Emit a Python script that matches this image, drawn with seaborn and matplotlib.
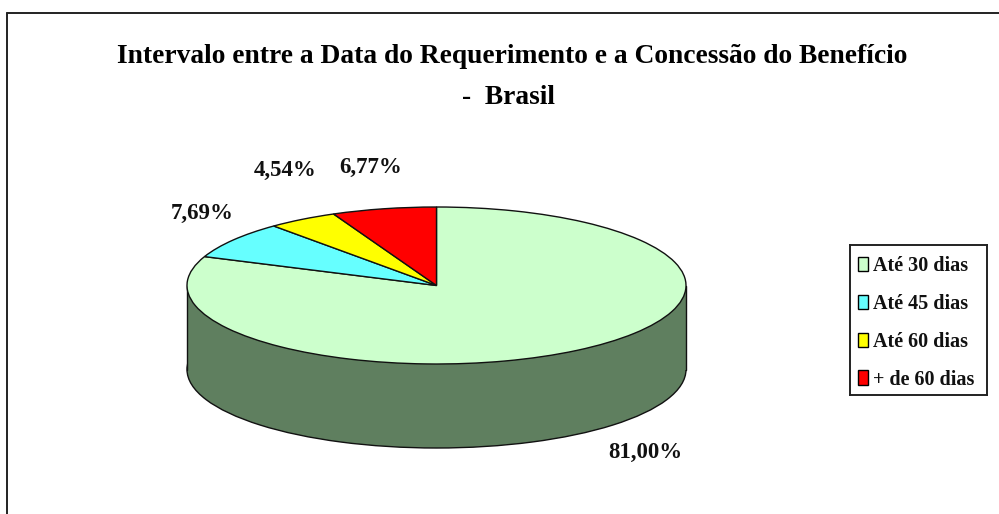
import numpy as np
import matplotlib
matplotlib.use("Agg")
import matplotlib.pyplot as plt
from matplotlib.patches import Patch, Rectangle
import seaborn as sns

categorias = ["Até 30 dias", "Até 45 dias", "Até 60 dias", "+ de 60 dias"]
valores = [81.00, 7.69, 4.54, 6.77]
rotulos = ["81,00%", "7,69%", "4,54%", "6,77%"]
cores = ["#ccffcc", "#66ffff", "#ffff00", "#ff0000"]
cor_lado = "#5f7f5f"
titulo = "Intervalo entre a Data do Requerimento e a Concessão do Benefício\n-  Brasil"

W, H = 999, 514
sns.set_theme(style="white")
plt.rcParams["font.family"] = ["Liberation Serif", "DejaVu Serif"]

fig = plt.figure(figsize=(W / 100, H / 100), dpi=100, facecolor="white")


def fx(px):
    return px / W


def fy(py):
    return 1 - py / H


# moldura do gráfico (cortada embaixo e na direita, como no original)
fig.add_artist(plt.Line2D([fx(7), fx(7)], [fy(13), 0], color="#222222", lw=1.4))
fig.add_artist(plt.Line2D([fx(7), 1], [fy(13), fy(13)], color="#222222", lw=1.4))

# pizza "3D": elipse achatada + lateral escura
profundidade = 84 / 78.5
ax = fig.add_axes([fx(187), fy(448), fx(499), 241 / H])

fundo, _ = ax.pie([1], colors=[cor_lado], radius=1, center=(0, -profundidade),
                  wedgeprops={"edgecolor": "#111111", "linewidth": 1, "clip_on": False})
ax.add_patch(Rectangle((-1, -profundidade), 2, profundidade, facecolor=cor_lado,
                       edgecolor="none", zorder=2, clip_on=False))
ax.plot([-1, -1], [0, -profundidade], color="#111111", lw=1, zorder=3, clip_on=False)
ax.plot([1, 1], [0, -profundidade], color="#111111", lw=1, zorder=3, clip_on=False)

topo, _ = ax.pie(valores, colors=cores, startangle=90, counterclock=False, radius=1,
                 wedgeprops={"edgecolor": "#111111", "linewidth": 1, "zorder": 4, "clip_on": False})
for w in topo:
    w.set_zorder(4)

ax.set_aspect("auto")
ax.set_xlim(-1, 1)
ax.set_ylim(-1 - profundidade, 1)
ax.axis("off")

# título e rótulos
fig.text(fx(512), fy(56), titulo.split("\n")[0], ha="center", va="center",
         fontsize=19.8, fontweight="bold", color="black")
fig.text(fx(509), fy(97), titulo.split("\n")[1], ha="center", va="center",
         fontsize=19.8, fontweight="bold", color="black")

pos_rotulos = [(645, 452), (202, 213), (285, 170), (371, 167)]
for txt, (px, py) in zip(rotulos, pos_rotulos):
    fig.text(fx(px), fy(py), txt, ha="center", va="center", fontsize=16.5,
             fontweight="bold", color="#111111")

# legenda: a caixa é o próprio axes, para acertar o tamanho
ax_leg = fig.add_axes([fx(850), fy(395), fx(137), 150 / H])
ax_leg.set_xticks([])
ax_leg.set_yticks([])
for s in ax_leg.spines.values():
    s.set_color("#222222")
    s.set_linewidth(1.4)
handles = [Patch(facecolor=c, edgecolor="black", linewidth=1) for c in cores]
leg = ax_leg.legend(handles, categorias, loc="center", bbox_to_anchor=(0.5 - 2 / 137, 0.5 - 3 / 150),
                    frameon=False,
                    prop={"size": 14.5, "weight": "bold"}, handlelength=0.5, handleheight=0.7,
                    handletextpad=0.25, labelspacing=0.88, borderpad=0.4, borderaxespad=0,
                    labelcolor="#111111")

fig.savefig("out.png", dpi=100, facecolor="white")
